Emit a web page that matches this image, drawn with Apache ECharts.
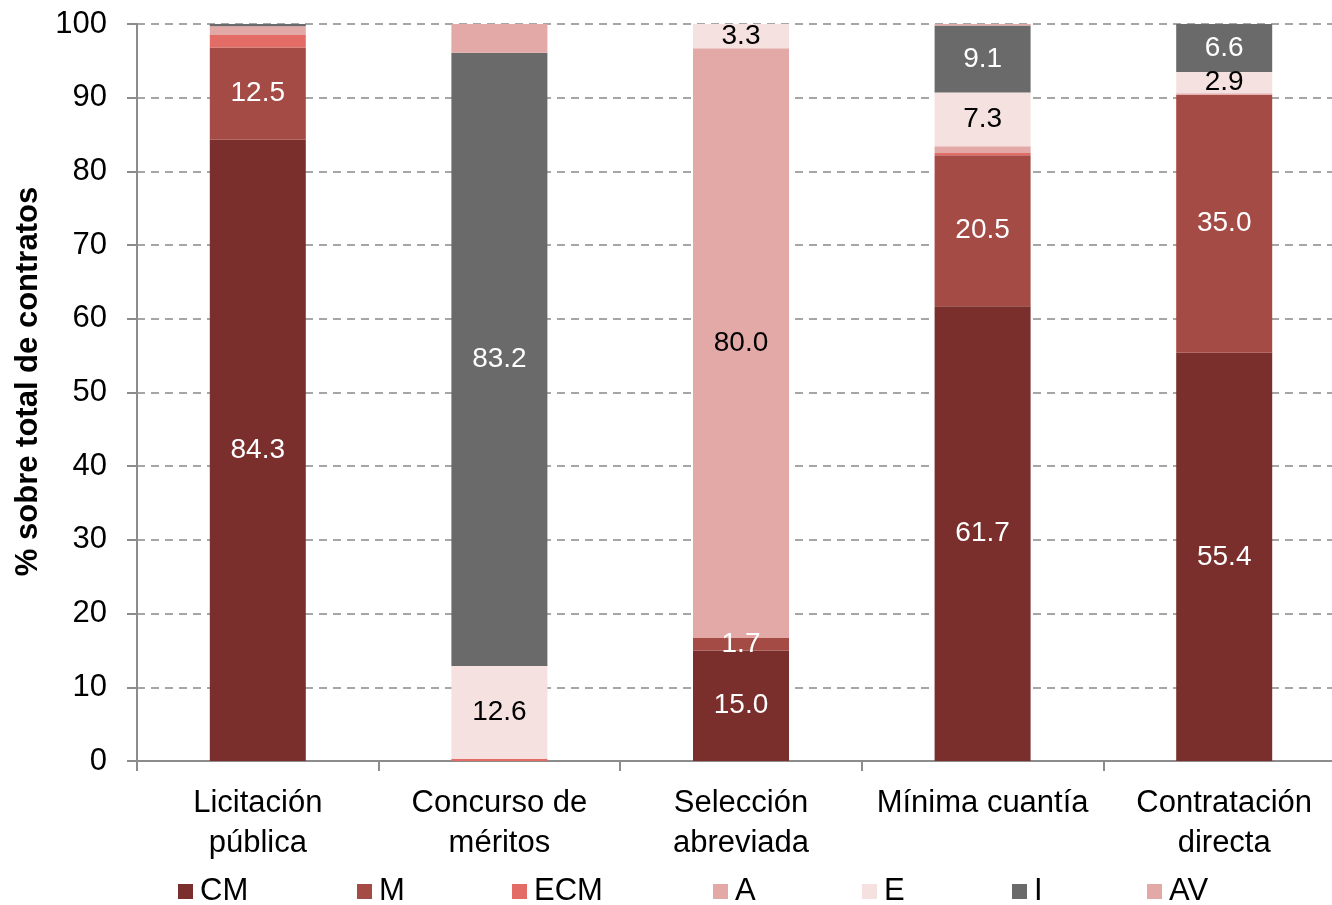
<!DOCTYPE html>
<html>
<head>
<meta charset="utf-8">
<script src="https://cdn.jsdelivr.net/npm/echarts@6/dist/echarts.min.js"></script>
<style>html,body{margin:0;padding:0;background:#fff;overflow:hidden}#c{width:1332px;height:905px}</style>
</head>
<body>
<div id="c"></div>
<script>
var categories = ['Licitación\npública', 'Concurso de\nméritos', 'Selección\nabreviada', 'Mínima cuantía', 'Contratación\ndirecta'];
var seriesNames = ['CM', 'M', 'ECM', 'A', 'E', 'I', 'AV'];
var CM  = [84.3, 0,    15.0, 61.7, 55.4];
var M   = [12.5, 0,    1.7,  20.5, 35.0];
var ECM = [1.7,  0.3,  0,    0.3,  0];
var A   = [1.2,  0,    80.0, 0.9,  0.2];
var E   = [0,    12.6, 3.3,  7.3,  2.9];
var I   = [0.3,  83.2, 0,    9.1,  6.6];
var AV  = [0,    3.9,  0,    0.2,  0];
// which segments carry a value label
var showCM  = [true, false, true, true, true];
var showM   = [true, false, true, true, true];
var showECM = [false, false, false, false, false];
var showA   = [false, false, true, false, false];
var showE   = [false, true, true, true, true];
var showI   = [false, true, false, true, true];
var showAV  = [false, false, false, false, false];
var yTicks = [0, 10, 20, 30, 40, 50, 60, 70, 80, 90, 100];

var colors = ['#7A2F2D', '#A54B45', '#E36C67', '#E3A9A7', '#F5E1E0', '#6A6A6A', '#E3A9A7'];
var labelColors = ['#fff', '#fff', '#000', '#000', '#000', '#fff', '#000'];
var vals = [CM, M, ECM, A, E, I, AV];
var shows = [showCM, showM, showECM, showA, showE, showI, showAV];
var font = 'Liberation Sans, Arial, sans-serif';

var series = seriesNames.map(function (n, si) {
  return {
    name: n, type: 'bar', stack: 'total', barWidth: 96,
    itemStyle: { color: colors[si] },
    label: { show: false, position: 'inside', color: labelColors[si], fontSize: 28, fontFamily: font,
      formatter: function (p) { return p.value.toFixed(1); } },
    data: vals[si].map(function (v, ci) {
      return { value: v, label: { show: shows[si][ci] } };
    })
  };
});

var legendLeft = [173, 352, 507, 708, 857, 1007, 1142];
var legends = seriesNames.map(function (n, i) {
  return {
    data: [n], left: legendLeft[i], top: 871, itemWidth: 15, itemHeight: 15, itemGap: 0,
    icon: 'rect', selectedMode: false,
    textStyle: { color: '#000', fontSize: 31, fontFamily: font, padding: [0, 0, 0, 2] }
  };
});

var chart = echarts.init(document.getElementById('c'));
chart.setOption({
  animation: false,
  backgroundColor: '#fff',
  color: colors,
  legend: legends,
  grid: { left: 137, width: 1208, top: 24, height: 737, containLabel: false, outerBoundsMode: 'none' },
  xAxis: {
    type: 'category', data: categories,
    axisLine: { lineStyle: { color: '#8c8c8c', width: 2 } },
    axisTick: { show: true, length: 10, lineStyle: { color: '#8c8c8c', width: 2 } },
    axisLabel: { color: '#000', fontSize: 31, fontFamily: font, lineHeight: 40, margin: 22, interval: 0 }
  },
  yAxis: {
    type: 'value', min: 0, max: 100, interval: 10,
    name: '% sobre total de contratos', nameLocation: 'middle', nameGap: 92, nameRotate: 90,
    nameTextStyle: { color: '#000', fontSize: 31, fontWeight: 'bold', fontFamily: font, padding: [0, 0, 0, 22] },
    axisLine: { show: true, lineStyle: { color: '#8c8c8c', width: 2 } },
    axisTick: { show: true, length: 10, lineStyle: { color: '#8c8c8c', width: 2 } },
    axisLabel: { color: '#000', fontSize: 31, fontFamily: font, margin: 30,
      formatter: function (v) { return yTicks.indexOf(v) >= 0 ? String(v) : ''; } },
    splitLine: { lineStyle: { color: '#a6a6a6', type: [8, 6], width: 2 } }
  },
  series: series
});
</script>
</body>
</html>
